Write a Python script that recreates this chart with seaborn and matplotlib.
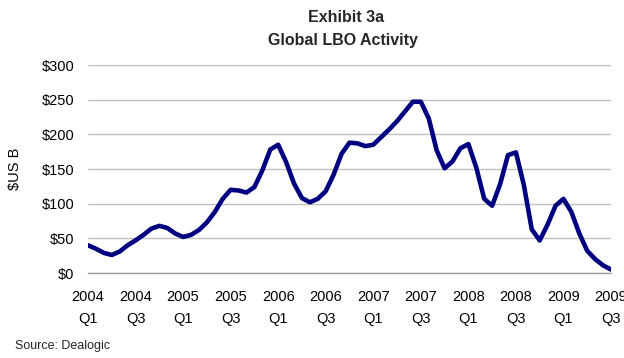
import numpy as np
import pandas as pd
import matplotlib
matplotlib.use("Agg")
import matplotlib.pyplot as plt
import seaborn as sns

# Monthly LBO activity ($US B), Jan 2004 .. Jul 2009
month_index = list(range(67))
lbo_value = [40, 35, 29, 26, 31, 40, 47, 55, 64, 68, 65, 57,
             52, 55, 62, 73, 88, 107, 120, 119, 116, 124, 148, 178,
             185, 160, 129, 108, 102, 107, 118, 142, 172, 188, 187, 183,
             185, 196, 207, 219, 233, 247, 247, 223, 177, 151, 161, 180,
             186, 152, 107, 97, 128, 170, 174, 127, 63, 47, 70, 97,
             107, 88, 57, 32, 20, 11, 5]
tick_labels = ["2004\nQ1", "2004\nQ3", "2005\nQ1", "2005\nQ3", "2006\nQ1", "2006\nQ3",
               "2007\nQ1", "2007\nQ3", "2008\nQ1", "2008\nQ3", "2009\nQ1", "2009\nQ3"]
y_ticks = [0, 50, 100, 150, 200, 250, 300]

df = pd.DataFrame({"month": month_index, "value": lbo_value})

sns.set_theme(style="white")
plt.rcParams["font.family"] = ["Liberation Sans", "DejaVu Sans"]

fig = plt.figure(figsize=(6.24, 3.58), dpi=100)
ax = fig.add_axes([88/624, 1-273/358, (611-88)/624, (273-65)/358])

sns.lineplot(data=df, x="month", y="value", ax=ax, color="#000080",
             linewidth=3.3, solid_capstyle="round", solid_joinstyle="round")

ax.set_xlim(0, 66)
ax.set_ylim(0, 300)
ax.set_yticks(y_ticks)
ax.set_yticklabels([f"${v}" for v in y_ticks], fontsize=10.5, color="black")
ax.yaxis.grid(True, color="#c0c0c0", linewidth=1)
ax.set_axisbelow(True)
ax.tick_params(axis="y", length=0, pad=10)

ax.set_xticks(list(range(0, 67, 6)))
ax.set_xticklabels(tick_labels, fontsize=10.5, color="black", linespacing=1.7)
ax.set_xticks(list(range(3, 67, 6)), minor=True)
ax.tick_params(axis="x", which="both", direction="inout", length=7, width=1,
               color="#a0a0a0", pad=9)

for s in ["left", "right", "top"]:
    ax.spines[s].set_visible(False)
ax.spines["bottom"].set_color("#a0a0a0")
ax.spines["bottom"].set_linewidth(1)

ax.set_xlabel("")
ax.set_ylabel("$US B", fontsize=10.5, color="black", labelpad=14)

fig.text(346/624, 1-18/358, "Exhibit 3a", ha="center", va="center",
         fontsize=11.5, fontweight="bold")
fig.text(343/624, 1-41/358, "Global LBO Activity", ha="center", va="center",
         fontsize=11.5, fontweight="bold")
fig.text(15/624, 1-346/358, "Source: Dealogic", ha="left", va="center", fontsize=9)

fig.savefig("out.png", dpi=100)
